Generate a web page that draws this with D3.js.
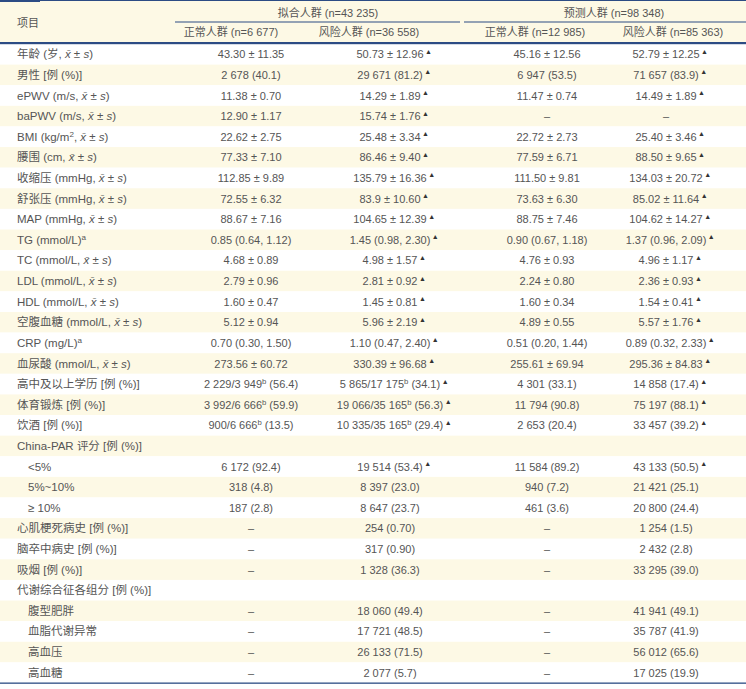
<!DOCTYPE html>
<html><head><meta charset="utf-8">
<script src="https://cdn.jsdelivr.net/npm/d3@7"></script>
<style>body{margin:0;background:#fff}</style>
</head><body><svg id="c" width="746" height="689"></svg>
<script>
const headerLabel = "项目";
const groupHeaders = ["拟合人群 (n=43 235)", "预测人群 (n=98 348)"];
const subHeaders = ["正常人群 (n=6 677)", "风险人群 (n=36 558)", "正常人群 (n=12 985)", "风险人群 (n=85 363)"];
const rowLabels = [
  "年龄 (岁, {x} ± {s})", "男性 [例 (%)]", "ePWV (m/s, {x} ± {s})", "baPWV (m/s, {x} ± {s})",
  "BMI (kg/m^2, {x} ± {s})", "腰围 (cm, {x} ± {s})", "收缩压 (mmHg, {x} ± {s})", "舒张压 (mmHg, {x} ± {s})",
  "MAP (mmHg, {x} ± {s})", "TG (mmol/L)^a", "TC (mmol/L, {x} ± {s})", "LDL (mmol/L, {x} ± {s})",
  "HDL (mmol/L, {x} ± {s})", "空腹血糖 (mmol/L, {x} ± {s})", "CRP (mg/L)^a", "血尿酸 (mmol/L, {x} ± {s})",
  "高中及以上学历 [例 (%)]", "体育锻炼 [例 (%)]", "饮酒 [例 (%)]", "China-PAR 评分 [例 (%)]",
  "<5%", "5%~10%", "≥ 10%", "心肌梗死病史 [例 (%)]", "脑卒中病史 [例 (%)]", "吸烟 [例 (%)]",
  "代谢综合征各组分 [例 (%)]", "腹型肥胖", "血脂代谢异常", "高血压", "高血糖"
];
const subRows = ["<5%", "5%~10%", "≥ 10%", "腹型肥胖", "血脂代谢异常", "高血压", "高血糖"];
const fitNormal = [
  "43.30 ± 11.35", "2 678 (40.1)", "11.38 ± 0.70", "12.90 ± 1.17", "22.62 ± 2.75", "77.33 ± 7.10",
  "112.85 ± 9.89", "72.55 ± 6.32", "88.67 ± 7.16", "0.85 (0.64, 1.12)", "4.68 ± 0.89", "2.79 ± 0.96",
  "1.60 ± 0.47", "5.12 ± 0.94", "0.70 (0.30, 1.50)", "273.56 ± 60.72", "2 229/3 949^b (56.4)",
  "3 992/6 666^b (59.9)", "900/6 666^b (13.5)", "", "6 172 (92.4)", "318 (4.8)", "187 (2.8)",
  "–", "–", "–", "", "–", "–", "–", "–"
];
const fitRisk = [
  "50.73 ± 12.96▲", "29 671 (81.2)▲", "14.29 ± 1.89▲", "15.74 ± 1.76▲", "25.48 ± 3.34▲", "86.46 ± 9.40▲",
  "135.79 ± 16.36▲", "83.9 ± 10.60▲", "104.65 ± 12.39▲", "1.45 (0.98, 2.30)▲", "4.98 ± 1.57▲", "2.81 ± 0.92▲",
  "1.45 ± 0.81▲", "5.96 ± 2.19▲", "1.10 (0.47, 2.40)▲", "330.39 ± 96.68▲", "5 865/17 175^b (34.1)▲",
  "19 066/35 165^b (56.3)▲", "10 335/35 165^b (29.4)▲", "", "19 514 (53.4)▲", "8 397 (23.0)", "8 647 (23.7)",
  "254 (0.70)", "317 (0.90)", "1 328 (36.3)", "", "18 060 (49.4)", "17 721 (48.5)", "26 133 (71.5)", "2 077 (5.7)"
];
const predNormal = [
  "45.16 ± 12.56", "6 947 (53.5)", "11.47 ± 0.74", "–", "22.72 ± 2.73", "77.59 ± 6.71",
  "111.50 ± 9.81", "73.63 ± 6.30", "88.75 ± 7.46", "0.90 (0.67, 1.18)", "4.76 ± 0.93", "2.24 ± 0.80",
  "1.60 ± 0.34", "4.89 ± 0.55", "0.51 (0.20, 1.44)", "255.61 ± 69.94", "4 301 (33.1)",
  "11 794 (90.8)", "2 653 (20.4)", "", "11 584 (89.2)", "940 (7.2)", "461 (3.6)",
  "–", "–", "–", "", "–", "–", "–", "–"
];
const predRisk = [
  "52.79 ± 12.25▲", "71 657 (83.9)▲", "14.49 ± 1.89▲", "–", "25.40 ± 3.46▲", "88.50 ± 9.65▲",
  "134.03 ± 20.72▲", "85.02 ± 11.64▲", "104.62 ± 14.27▲", "1.37 (0.96, 2.09)▲", "4.96 ± 1.17▲", "2.36 ± 0.93▲",
  "1.54 ± 0.41▲", "5.57 ± 1.76▲", "0.89 (0.32, 2.33)▲", "295.36 ± 84.83▲", "14 858 (17.4)▲",
  "75 197 (88.1)▲", "33 457 (39.2)▲", "", "43 133 (50.5)▲", "21 421 (25.1)", "20 800 (24.4)",
  "1 254 (1.5)", "2 432 (2.8)", "33 295 (39.0)", "", "41 941 (49.1)", "35 787 (41.9)", "56 012 (65.6)", "17 025 (19.9)"
];

const W = 746, H = 689;
const lineCol = "#2c4c84", cream = "#fdf9e5", textCol = "#555";
const FONT = "'Liberation Sans', Arial, 'Noto Sans CJK SC', sans-serif";
const FS = 11, CJK_FS = 11, LABEL_FS = 11.5;
const svg = d3.select("#c").attr("font-family", FONT).attr("fill", textCol);

const cols = ["fitNormal", "fitRisk", "predNormal", "predRisk"];
const colData = [fitNormal, fitRisk, predNormal, predRisk];
const xCol = d3.scaleOrdinal().domain(cols).range([251, 390, 547, 666]);
const xSub = d3.scaleOrdinal().domain(cols).range([231, 369, 535, 673]);
const xGroup = d3.scaleOrdinal().domain([0, 1]).range([328, 614]);
const y = d3.scaleBand().domain(d3.range(rowLabels.length)).range([44, 683]);

// header background
svg.append("rect").attr("x", 0).attr("y", 0).attr("width", W).attr("height", 43).attr("fill", cream);
// row stripes
svg.selectAll("rect.stripe").data(rowLabels).join("rect").attr("class", "stripe")
  .attr("x", 0).attr("width", W).attr("y", (d, i) => y(i)).attr("height", y.bandwidth())
  .attr("fill", (d, i) => i % 2 ? cream : "#fff");

// rich text renderer
function rich(textSel, str, size, cjkSize) {
  const re = /(\{x\}|\{s\}|\^.|▲|[\u3000-\u303f\u4e00-\u9fff\uff00-\uffef]+)/;
  const parts = str.split(re).filter(p => p !== "");
  let off = 0;
  parts.forEach(p => {
    const t = textSel.append("tspan");
    let dy = 0, fs = size, style = null, txt = p;
    if (p === "{x}") { txt = "x\u0304"; style = "italic"; }
    else if (p === "{s}") { txt = "s"; style = "italic"; }
    else if (p.startsWith("^")) { txt = p.slice(1); fs = size * 0.7; dy = -4; }
    else if (/[\u3000-\u303f\u4e00-\u9fff\uff00-\uffef]/.test(p)) { fs = cjkSize || CJK_FS; }
    t.text(txt).attr("font-size", fs);
    if (style) t.attr("font-style", style);
    if (dy - off !== 0) t.attr("dy", dy - off);
    off = dy;
  });
}

// header text
rich(svg.append("text").attr("x", 17).attr("y", 27), headerLabel, FS);
groupHeaders.forEach((g, i) => {
  rich(svg.append("text").attr("x", xGroup(i)).attr("y", 17).attr("text-anchor", "middle"), g, FS);
});
cols.forEach((c, i) => {
  rich(svg.append("text").attr("x", xSub(c)).attr("y", 36).attr("text-anchor", "middle"), subHeaders[i], FS);
});

// lines
svg.append("rect").attr("x", 0).attr("y", 0).attr("width", W).attr("height", 1).attr("fill", lineCol);
svg.append("rect").attr("x", 0).attr("y", 0).attr("width", 40).attr("height", 2).attr("fill", lineCol);
svg.append("rect").attr("x", 175).attr("y", 21.5).attr("width", 285).attr("height", 1).attr("fill", lineCol);
svg.append("rect").attr("x", 464).attr("y", 21.5).attr("width", W - 464).attr("height", 1).attr("fill", lineCol);
svg.append("rect").attr("x", 0).attr("y", 42).attr("width", W).attr("height", 2.2).attr("fill", lineCol);
svg.append("rect").attr("x", 0).attr("y", 682.5).attr("width", W).attr("height", 1.3).attr("fill", lineCol);

// row labels
rowLabels.forEach((lab, i) => {
  const t = svg.append("text").attr("x", subRows.includes(lab) ? 28 : 17)
    .attr("y", y(i) + y.bandwidth() / 2 + 4);
  rich(t, lab, LABEL_FS, 11.5);
});

// cells
cols.forEach((c, ci) => {
  colData[ci].forEach((v, i) => {
    if (!v) return;
    const sig = v.endsWith("▲");
    const main = sig ? v.slice(0, -1) : v;
    const t = svg.append("text").attr("x", xCol(c)).attr("y", y(i) + y.bandwidth() / 2 + 4)
      .attr("text-anchor", "middle");
    rich(t, main, FS);
    if (sig) {
      const bb = t.node().getBBox();
      svg.append("text").attr("x", bb.x + bb.width + 1.5).attr("y", y(i) + y.bandwidth() / 2 - 0.5)
        .attr("font-size", 7).attr("fill", "#333").text("▲");
    }
  });
});
</script></body></html>
